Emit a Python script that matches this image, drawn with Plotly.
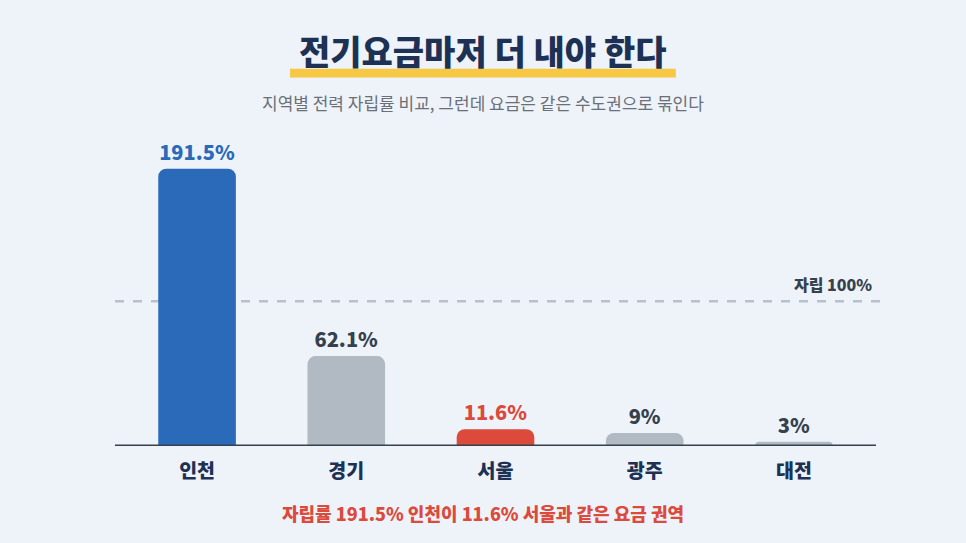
import plotly.graph_objects as go

# 지역별 전력 자립률 (%)
regions = ["인천", "경기", "서울", "광주", "대전"]
self_sufficiency = [191.5, 62.1, 11.6, 9, 3]
value_labels = ["191.5%", "62.1%", "11.6%", "9%", "3%"]
bar_colors = ["#2a6ab8", "#b1b9c2", "#db4a3a", "#b1b9c2", "#b1b9c2"]
label_colors = ["#2a6ab8", "#36414e", "#db4a3a", "#36414e", "#36414e"]
reference_level = 100

FONT = "Noto Sans CJK KR"
NAVY = "#1d3154"
BG = "#eef3fa"
SHIFT = -13  # 가운데 정렬 보정

fig = go.Figure()

fig.add_trace(go.Bar(
    x=regions,
    y=self_sufficiency,
    text=value_labels,
    textposition="outside",
    textfont=dict(family=FONT, size=20, color=label_colors, weight=800),
    marker=dict(color=bar_colors, cornerradius=8, line=dict(width=0)),
    width=0.52,
    cliponaxis=False,
    hoverinfo="skip",
))

# 자립 100% 기준선
fig.add_shape(type="line", xref="paper", yref="y", x0=0, x1=1.012,
              y0=reference_level, y1=reference_level,
              line=dict(color="#b7c1cc", width=2.5, dash="dash"), layer="below")
fig.add_annotation(xref="paper", yref="y", x=0.998, y=reference_level,
                   text="자립 100%", showarrow=False,
                   xanchor="right", yanchor="bottom", yshift=3,
                   font=dict(family=FONT, size=16, color="#36414e", weight=800))

# 기준축
fig.add_shape(type="line", xref="paper", yref="y", x0=0, x1=1, y0=0, y1=0,
              line=dict(color="#36414e", width=3))

# 제목 밑줄 (노란색)
fig.add_shape(type="rect", xref="paper", yref="paper",
              x0=0.230, x1=0.737, y0=1.212, y1=1.241,
              fillcolor="#f7c843", line=dict(width=0), layer="below")

fig.add_annotation(xref="paper", yref="paper", x=0.5, y=1.30, xshift=SHIFT,
                   text="전기요금마저 더 내야 한다", showarrow=False,
                   xanchor="center", yanchor="middle",
                   font=dict(family=FONT, size=34, color=NAVY, weight=900))
fig.add_annotation(xref="paper", yref="paper", x=0.5, y=1.13, xshift=SHIFT,
                   text="지역별 전력 자립률 비교, 그런데 요금은 같은 수도권으로 묶인다",
                   showarrow=False, xanchor="center", yanchor="middle",
                   font=dict(family=FONT, size=17, color="#6b7078"))
fig.add_annotation(xref="paper", yref="paper", x=0.5, y=-0.22, xshift=SHIFT,
                   text="자립률 191.5% 인천이 11.6% 서울과 같은 요금 권역",
                   showarrow=False, xanchor="center", yanchor="middle",
                   font=dict(family=FONT, size=18, color="#db4a3a", weight=800))

fig.update_layout(
    width=966,
    height=543,
    margin=dict(l=115, r=90, t=142, b=97),
    paper_bgcolor=BG,
    plot_bgcolor=BG,
    showlegend=False,
    xaxis=dict(range=[-0.55, 4.55], showgrid=False, zeroline=False, showline=False,
               ticks="", ticklabelstandoff=11,
               tickfont=dict(family=FONT, size=19.5, color=NAVY, weight=800)),
    yaxis=dict(range=[0, 210], visible=False, showgrid=False, zeroline=False),
)

fig.write_html(
    "out.html",
    config={"displayModeBar": False},
    post_script=f"document.body.style.margin='0';document.body.style.background='{BG}';",
)
